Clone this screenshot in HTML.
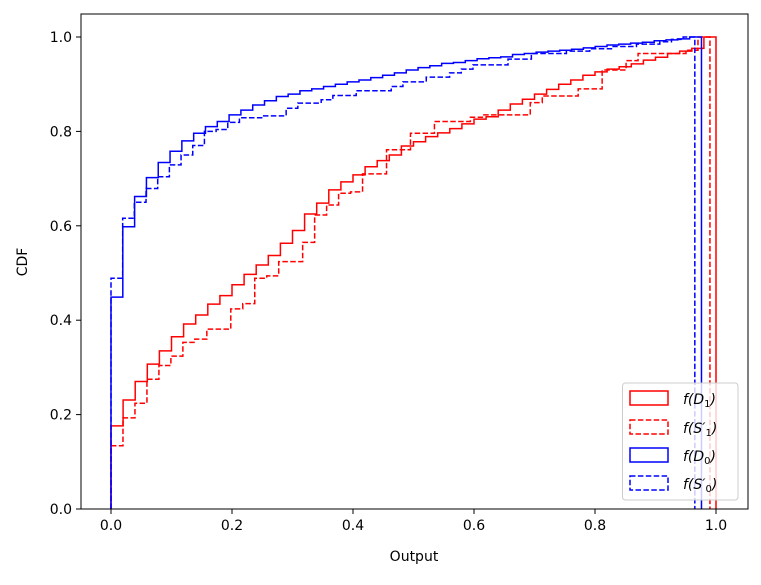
<!DOCTYPE html>
<html><head><meta charset="utf-8"><style>
body{margin:0;background:#fff;}
svg text{font-family:"DejaVu Sans","Liberation Sans",sans-serif;}
</style></head><body>
<svg id="chart" width="761" height="580" viewBox="0 0 761 580" xmlns="http://www.w3.org/2000/svg">
<rect width="761" height="580" fill="#fff"/>
<g id="series"></g>
<rect x="81" y="14" width="667" height="495" fill="none" stroke="#000" stroke-width="1"/>
<g id="axes"></g>
<text x="414" y="561" font-size="14" text-anchor="middle">Output</text>
<text x="0" y="0" font-size="14" text-anchor="middle" transform="translate(27,262) rotate(-90)">CDF</text>
<g>
<rect x="622.5" y="383" width="115.5" height="117" rx="3" fill="#fff" fill-opacity="0.8" stroke="#ccc"/>
<g><rect x="630" y="391" width="38" height="14" fill="none" stroke="#f00" stroke-width="1.5"/><text x="683" y="404" font-size="14" font-style="italic">f(D<tspan font-style="normal" font-size="10" dy="3">1</tspan><tspan dy="-3">)</tspan></text></g>
<g><rect x="630" y="420" width="38" height="14" fill="none" stroke="#f00" stroke-width="1.5" stroke-dasharray="5.5,2.4"/><text x="683" y="433" font-size="14" font-style="italic">f(S′<tspan font-style="normal" font-size="10" dy="3">1</tspan><tspan dy="-3">)</tspan></text></g>
<g><rect x="630" y="448" width="38" height="14" fill="none" stroke="#00f" stroke-width="1.5"/><text x="683" y="461" font-size="14" font-style="italic">f(D<tspan font-style="normal" font-size="10" dy="3">0</tspan><tspan dy="-3">)</tspan></text></g>
<g><rect x="630" y="476" width="38" height="14" fill="none" stroke="#00f" stroke-width="1.5" stroke-dasharray="5.5,2.4"/><text x="683" y="489" font-size="14" font-style="italic">f(S′<tspan font-style="normal" font-size="10" dy="3">0</tspan><tspan dy="-3">)</tspan></text></g>
</g>
</svg>
<script>
const xTicks=[0,0.2,0.4,0.6,0.8,1.0];
const xTickLabels=["0.0","0.2","0.4","0.6","0.8","1.0"];
const yTicks=[0,0.2,0.4,0.6,0.8,1.0];
const yTickLabels=["0.0","0.2","0.4","0.6","0.8","1.0"];
const seriesMax=[1.0,0.99,0.976,0.965];
const d1Values=[0.176,0.231,0.270,0.307,0.335,0.365,0.392,0.411,0.434,0.452,0.475,0.497,0.517,0.537,0.563,0.590,0.625,0.648,0.676,0.693,0.708,0.725,0.738,0.750,0.769,0.778,0.789,0.797,0.806,0.816,0.826,0.831,0.845,0.858,0.868,0.879,0.889,0.900,0.909,0.919,0.926,0.932,0.937,0.943,0.951,0.957,0.965,0.970,0.976,1.0];
const s1Values=[0.134,0.193,0.224,0.275,0.304,0.324,0.353,0.360,0.381,0.381,0.424,0.435,0.489,0.494,0.524,0.524,0.565,0.623,0.644,0.669,0.672,0.710,0.710,0.761,0.761,0.796,0.796,0.821,0.821,0.821,0.830,0.835,0.835,0.835,0.835,0.861,0.875,0.875,0.875,0.890,0.890,0.930,0.930,0.950,0.965,0.965,0.965,0.965,0.972,1.0];
const d0Values=[0.449,0.598,0.662,0.702,0.734,0.758,0.780,0.796,0.810,0.821,0.835,0.845,0.856,0.865,0.874,0.879,0.886,0.890,0.895,0.900,0.905,0.909,0.914,0.919,0.924,0.930,0.935,0.939,0.944,0.946,0.950,0.954,0.956,0.958,0.963,0.965,0.968,0.970,0.972,0.974,0.977,0.980,0.983,0.985,0.987,0.989,0.992,0.994,0.996,1.0];
const s0Values=[0.489,0.616,0.650,0.679,0.704,0.729,0.750,0.770,0.800,0.804,0.819,0.829,0.829,0.833,0.833,0.849,0.860,0.860,0.867,0.876,0.876,0.886,0.886,0.886,0.895,0.905,0.905,0.915,0.915,0.924,0.932,0.941,0.941,0.941,0.953,0.953,0.965,0.965,0.965,0.970,0.970,0.975,0.975,0.980,0.980,0.985,0.985,0.990,0.995,1.0];

const NS="http://www.w3.org/2000/svg";
function xs(v){return 111+v*605;}
function ys(v){return 509-v*472;}
const axes=document.getElementById('axes');
function mk(tag,attrs,parent){const e=document.createElementNS(NS,tag);for(const k in attrs)e.setAttribute(k,attrs[k]);parent.appendChild(e);return e;}
xTicks.forEach((t,i)=>{
  const l=mk('line',{x1:xs(t),x2:xs(t),y1:509,y2:514,stroke:'#000','stroke-width':1},axes);
  
  
  const tx=mk('text',{x:xs(t),y:530,'font-size':14,'text-anchor':'middle'},axes);
  tx.textContent=xTickLabels[i];
  
  
});
yTicks.forEach((t,i)=>{
  const l=mk('line',{x1:76,x2:81,y1:ys(t),y2:ys(t),stroke:'#000','stroke-width':1},axes);
  
  
  const tx=mk('text',{x:72,y:ys(t)+5,'font-size':14,'text-anchor':'end'},axes);
  tx.textContent=yTickLabels[i];
  
  
});
const sg=document.getElementById('series');
function stepPath(vals,maxX){
  const n=vals.length,w=maxX/n;
  let d='M'+xs(0)+','+ys(0);
  vals.forEach((v,i)=>{d+=' L'+xs(i*w)+','+ys(v)+' L'+xs((i+1)*w)+','+ys(v);});
  d+=' L'+xs(maxX)+','+ys(0);
  return d;
}
const defs=[[d1Values,seriesMax[0],'#f00',null,'series-d1'],[s1Values,seriesMax[1],'#f00','5.5,2.4','series-s1'],[d0Values,seriesMax[2],'#00f',null,'series-d0'],[s0Values,seriesMax[3],'#00f','5.5,2.4','series-s0']];
defs.forEach(s=>{
  const p=mk('path',{d:stepPath(s[0],s[1]),fill:'none',stroke:s[2],'stroke-width':1.5},sg);
  if(s[3])p.setAttribute('stroke-dasharray',s[3]);
  
  
});
</script>
</body></html>
